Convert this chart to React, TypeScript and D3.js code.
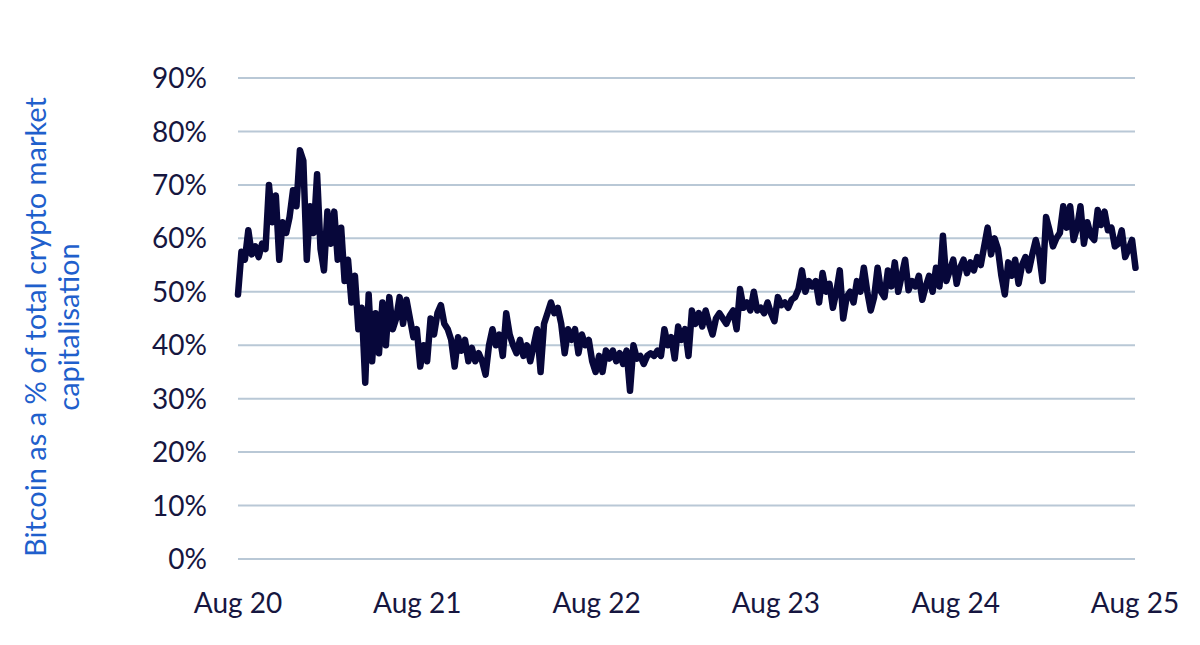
import { useEffect, useRef } from "react";
import * as d3 from "d3";

// weekly readings, first week = start of Aug 2020
const startDate = new Date(2020, 7, 1);

const btcShare: number[] = [
  // Aug 20 - Aug 21
  49.5, 57.5, 56, 61.5, 57, 58.5, 56.5, 59, 58, 70, 63, 68, 56, 63, 61, 64, 69, 66, 76.5, 74.5,
  56, 66, 61, 72, 58, 54, 65, 59, 65, 56, 62, 52, 56, 48, 53, 43, 47, 33, 49.5, 37,
  46, 38.5, 48, 40, 49, 43, 45, 49, 44, 48.5, 45, 41.5,
  // Aug 21 - Aug 22
  43, 36, 40, 37, 45, 42, 46, 47.5, 44, 43, 41, 36, 41.5, 39, 41, 37, 39.5, 37, 38.5, 37,
  34.5, 40, 43, 40, 42, 38, 46, 42, 40, 38.5, 41, 38, 40, 37, 40, 43, 35, 44, 46, 48,
  46, 47, 44, 38.5, 43, 41, 43, 38.5, 42, 40, 41, 37,
  // Aug 22 - Aug 23
  35, 38, 35, 39, 37.5, 39, 37, 38.5, 36.5, 39, 31.5, 40, 37.5, 38, 36.5, 38, 38.5, 38, 39, 38,
  43, 40, 41.5, 37.5, 43.5, 41, 43, 38, 46.5, 44, 46, 43.5, 46.5, 44, 42, 45, 46, 45, 44, 45.5,
  46.5, 43, 50.5, 47, 48, 46.5, 50, 46.5, 47, 46, 48, 46,
  // Aug 23 - Aug 24
  44.5, 49, 47.5, 48, 47, 48.5, 49, 50.5, 54, 50, 52, 51, 52, 48, 53.5, 50, 51.5, 47, 50, 54,
  45, 49, 50, 48, 52, 50, 54.5, 50, 46.5, 49, 54.5, 50, 49, 54, 51, 55.5, 50, 53, 56, 50.3,
  52, 51, 53, 48.5, 51, 53, 50, 54.5, 51, 60.5, 52, 54,
  // Aug 24 - Aug 25
  56, 51.5, 54.5, 56, 53.5, 55.5, 54, 56.5, 55, 58.5, 62, 57, 60, 58, 53, 49.5, 55.5, 53, 56, 51.5,
  55, 56.5, 54, 57, 59.7, 57, 52, 64, 61.5, 58.5, 60, 61, 66, 62, 66, 59.7, 62, 66, 59, 63,
  60.5, 59.7, 65.3, 62.5, 65, 61.5, 62, 58.5, 59, 61.5, 56.5, 58, 59.7, 54.5,
];

const yTicks = [0, 10, 20, 30, 40, 50, 60, 70, 80, 90];
const xTickYears = [2020, 2021, 2022, 2023, 2024, 2025];
const axisTitle = ["Bitcoin as a % of total crypto market", "capitalisation"];

const App = () => {
  const svgRef = useRef<SVGSVGElement>(null);

  useEffect(() => {
    const w = 1200;
    const h = 645;
    const left = 238;
    const right = 1135;
    const top = 78;
    const bottom = 559;

    const svg = d3.select(svgRef.current).attr("width", w).attr("height", h);
    svg.selectAll("*").remove();

    const points = btcShare.map((v, i) => ({
      date: d3.timeDay.offset(startDate, i * 7),
      value: v,
    }));

    const xScale = d3
      .scaleTime()
      .domain([new Date(2020, 7, 1), new Date(2025, 7, 1)])
      .range([left, right]);
    const yScale = d3.scaleLinear().domain([0, 90]).range([bottom, top]);

    // gridlines
    svg
      .append("g")
      .selectAll("line")
      .data(yTicks)
      .join("line")
      .attr("x1", left)
      .attr("x2", right)
      .attr("y1", (d) => yScale(d))
      .attr("y2", (d) => yScale(d))
      .attr("stroke", "#b9c8d6")
      .attr("stroke-width", 2);

    // y tick labels
    svg
      .append("g")
      .selectAll("text")
      .data(yTicks)
      .join("text")
      .attr("x", 207)
      .attr("y", (d) => yScale(d))
      .attr("dy", "0.36em")
      .attr("text-anchor", "end")
      .attr("font-family", "Lato, sans-serif")
      .attr("font-size", 28)
      .attr("fill", "#16163f")
      .text((d) => `${d}%`);

    // x tick labels
    svg
      .append("g")
      .selectAll("text")
      .data(xTickYears)
      .join("text")
      .attr("x", (d) => xScale(new Date(d, 7, 1)))
      .attr("y", 613)
      .attr("text-anchor", "middle")
      .attr("font-family", "Lato, sans-serif")
      .attr("font-size", 28)
      .attr("fill", "#16163f")
      .text((d) => `Aug ${String(d).slice(2)}`);

    // axis title
    svg
      .append("text")
      .attr("transform", "translate(52, 327) rotate(-90)")
      .attr("text-anchor", "middle")
      .attr("font-family", "Lato, sans-serif")
      .attr("font-size", 29)
      .attr("fill", "#1f5fcc")
      .selectAll("tspan")
      .data(axisTitle)
      .join("tspan")
      .attr("x", 0)
      .attr("y", (_, i) => (i === 0 ? -6 : 27))
      .text((d) => d);

    const line = d3
      .line<{ date: Date; value: number }>()
      .x((d) => xScale(d.date))
      .y((d) => yScale(d.value));

    svg
      .append("path")
      .datum(points)
      .attr("d", line)
      .attr("fill", "none")
      .attr("stroke", "#07073a")
      .attr("stroke-width", 6.5)
      .attr("stroke-linejoin", "round")
      .attr("stroke-linecap", "round");
  }, []);

  return (
    <div>
      <svg ref={svgRef} style={{ position: "absolute", left: 0, top: 0 }} />
    </div>
  );
};

export default App;
